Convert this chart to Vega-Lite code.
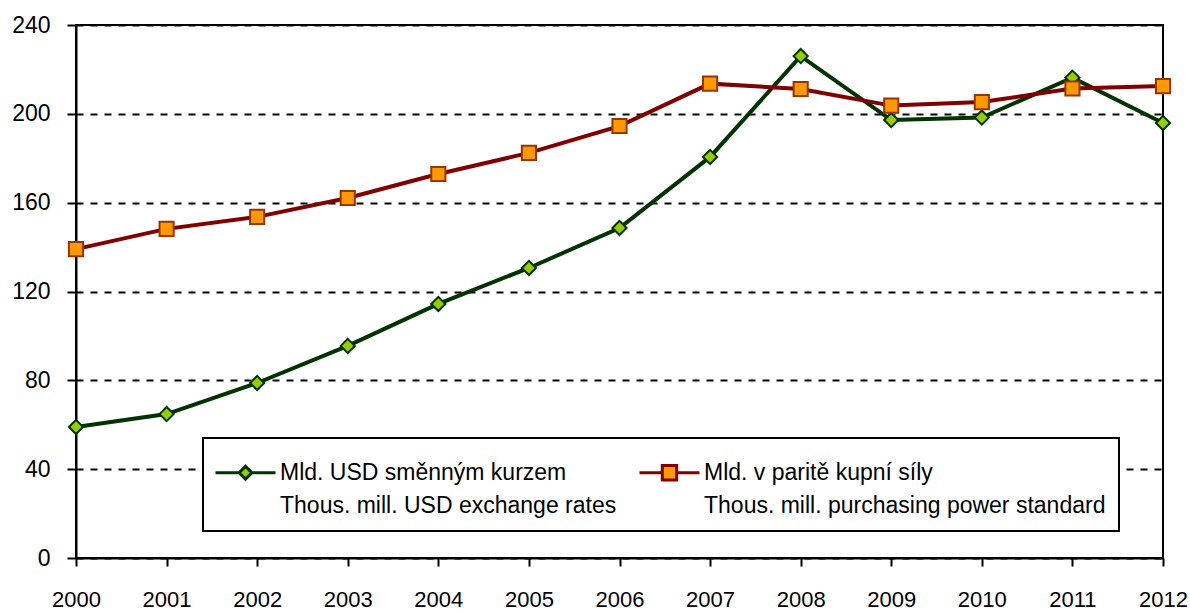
{
  "$schema": "https://vega.github.io/schema/vega-lite/v6.json",
  "width": 1087,
  "height": 533,
  "autosize": {"type": "none"},
  "padding": {"left": 76, "top": 25, "right": 27, "bottom": 54},
  "background": "white",
  "config": {
    "view": {"stroke": "black", "strokeWidth": 2},
    "axis": {"domainColor": "black", "domainWidth": 2, "tickColor": "black", "tickWidth": 2, "labelColor": "black"}
  },
  "data": {
    "values": [
      {"year": "2000", "series": "Mld. USD směnným kurzem|Thous. mill. USD exchange rates", "value": 59.0},
      {"year": "2001", "series": "Mld. USD směnným kurzem|Thous. mill. USD exchange rates", "value": 64.8},
      {"year": "2002", "series": "Mld. USD směnným kurzem|Thous. mill. USD exchange rates", "value": 78.8},
      {"year": "2003", "series": "Mld. USD směnným kurzem|Thous. mill. USD exchange rates", "value": 95.5},
      {"year": "2004", "series": "Mld. USD směnným kurzem|Thous. mill. USD exchange rates", "value": 114.4},
      {"year": "2005", "series": "Mld. USD směnným kurzem|Thous. mill. USD exchange rates", "value": 130.6},
      {"year": "2006", "series": "Mld. USD směnným kurzem|Thous. mill. USD exchange rates", "value": 148.6},
      {"year": "2007", "series": "Mld. USD směnným kurzem|Thous. mill. USD exchange rates", "value": 180.6},
      {"year": "2008", "series": "Mld. USD směnným kurzem|Thous. mill. USD exchange rates", "value": 226.0},
      {"year": "2009", "series": "Mld. USD směnným kurzem|Thous. mill. USD exchange rates", "value": 197.2},
      {"year": "2010", "series": "Mld. USD směnným kurzem|Thous. mill. USD exchange rates", "value": 198.3},
      {"year": "2011", "series": "Mld. USD směnným kurzem|Thous. mill. USD exchange rates", "value": 216.3},
      {"year": "2012", "series": "Mld. USD směnným kurzem|Thous. mill. USD exchange rates", "value": 195.9},
      {"year": "2000", "series": "Mld. v paritě kupní síly|Thous. mill. purchasing power standard", "value": 139.1},
      {"year": "2001", "series": "Mld. v paritě kupní síly|Thous. mill. purchasing power standard", "value": 148.2},
      {"year": "2002", "series": "Mld. v paritě kupní síly|Thous. mill. purchasing power standard", "value": 153.6},
      {"year": "2003", "series": "Mld. v paritě kupní síly|Thous. mill. purchasing power standard", "value": 162.1},
      {"year": "2004", "series": "Mld. v paritě kupní síly|Thous. mill. purchasing power standard", "value": 172.9},
      {"year": "2005", "series": "Mld. v paritě kupní síly|Thous. mill. purchasing power standard", "value": 182.4},
      {"year": "2006", "series": "Mld. v paritě kupní síly|Thous. mill. purchasing power standard", "value": 194.5},
      {"year": "2007", "series": "Mld. v paritě kupní síly|Thous. mill. purchasing power standard", "value": 213.6},
      {"year": "2008", "series": "Mld. v paritě kupní síly|Thous. mill. purchasing power standard", "value": 211.2},
      {"year": "2009", "series": "Mld. v paritě kupní síly|Thous. mill. purchasing power standard", "value": 203.7},
      {"year": "2010", "series": "Mld. v paritě kupní síly|Thous. mill. purchasing power standard", "value": 205.3},
      {"year": "2011", "series": "Mld. v paritě kupní síly|Thous. mill. purchasing power standard", "value": 211.4},
      {"year": "2012", "series": "Mld. v paritě kupní síly|Thous. mill. purchasing power standard", "value": 212.5}
    ]
  },
  "encoding": {
    "x": {
      "field": "year", "type": "ordinal",
      "scale": {"type": "point", "padding": 0},
      "axis": {"title": null, "labelAngle": 0, "tickSize": 8, "labelPadding": 23, "labelFont": "Liberation Sans", "labelFontSize": 22, "grid": false}
    },
    "y": {
      "field": "value", "type": "quantitative",
      "scale": {"domain": [0, 240], "nice": false},
      "axis": {"title": null, "values": [0, 40, 80, 120, 160, 200, 240], "tickSize": 9, "labelPadding": 17, "labelFont": "Liberation Sans", "labelFontSize": 23, "grid": true, "gridColor": "black", "gridWidth": 2, "gridDash": [7, 7]}
    }
  },
  "layer": [
    {
      "mark": {"type": "line", "strokeWidth": 4},
      "encoding": {
        "color": {
          "field": "series", "type": "nominal",
          "scale": {
            "domain": ["Mld. USD směnným kurzem|Thous. mill. USD exchange rates", "Mld. v paritě kupní síly|Thous. mill. purchasing power standard"],
            "range": ["#003300", "#800000"]
          },
          "legend": {
            "title": null,
            "orient": "none",
            "legendX": 127,
            "legendY": 413,
            "direction": "horizontal",
            "columns": 2,
            "columnPadding": 16,
            "padding": 13,
            "symbolType": "stroke",
            "symbolSize": 1600,
            "symbolStrokeWidth": 3,
            "symbolOffset": 8,
            "labelFont": "Liberation Sans",
            "labelFontSize": 23,
            "labelColor": "black",
            "labelLimit": 0,
            "labelOffset": 13,
            "labelExpr": "split(datum.label, '|')",
            "fillColor": "white",
            "strokeColor": "black",
            "zindex": 1,
            "encode": {
              "symbols": {
                "update": {
                  "shape": {"signal": "indexof(datum.value, 'USD') >= 0 ? 'M-1.5,0L-0.32,0M0.32,0L1.5,0M0,-0.32L0.32,0L0,0.32L-0.32,0Z' : 'M-1.5,0L-0.36,0M0.36,0L1.5,0M-0.36,-0.36L0.36,-0.36L0.36,0.36L-0.36,0.36Z'"},
                  "fill": {"signal": "indexof(datum.value, 'USD') >= 0 ? '#99cc00' : '#ff9900'"}
                }
              },
              "labels": {
                "update": {
                  "lineHeight": {"value": 33}
                }
              },
              "legend": {
                "update": {
                  "strokeWidth": {"value": 2}
                }
              }
            }
          }
        }
      }
    },
    {
      "mark": {"type": "point", "filled": true, "size": 200, "strokeWidth": 2, "opacity": 1},
      "encoding": {
        "shape": {
          "field": "series", "type": "nominal",
          "scale": {"range": ["diamond", "square"]},
          "legend": null
        },
        "fill": {
          "field": "series", "type": "nominal",
          "scale": {"range": ["#99cc00", "#ff9900"]},
          "legend": null
        },
        "stroke": {
          "field": "series", "type": "nominal",
          "scale": {"range": ["#003300", "#993300"]},
          "legend": null
        }
      }
    }
  ]
}
